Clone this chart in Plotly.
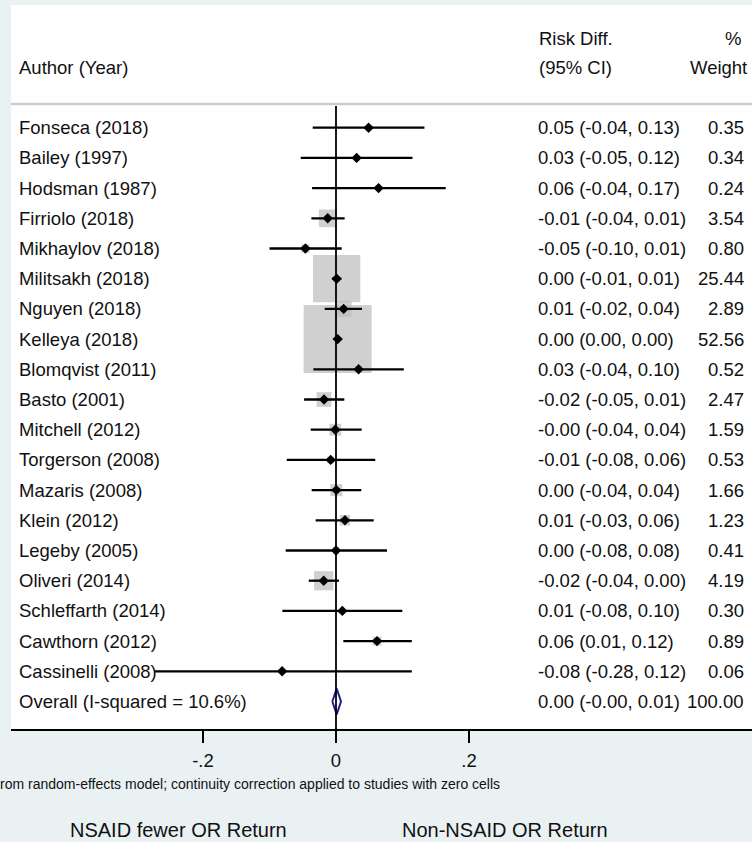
import math
import plotly.graph_objects as go

# ---------------- data ----------------
studies = ["Fonseca (2018)", "Bailey (1997)", "Hodsman (1987)", "Firriolo (2018)",
           "Mikhaylov (2018)", "Militsakh (2018)", "Nguyen (2018)", "Kelleya (2018)",
           "Blomqvist (2011)", "Basto (2001)", "Mitchell (2012)", "Torgerson (2008)",
           "Mazaris (2008)", "Klein (2012)", "Legeby (2005)", "Oliveri (2014)",
           "Schleffarth (2014)", "Cawthorn (2012)", "Cassinelli (2008)"]
est = [0.049, 0.031, 0.064, -0.0125, -0.046, 0.001, 0.0115, 0.0025, 0.034, -0.018,
       -0.001, -0.008, 0.0005, 0.0135, 0.0, -0.0185, 0.0095, 0.0617, -0.081]
lo = [-0.035, -0.053, -0.036, -0.037, -0.100, -0.006, -0.017, -0.001, -0.034, -0.048,
      -0.038, -0.074, -0.0366, -0.0306, -0.0757, -0.041, -0.0807, 0.011, -0.272]
hi = [0.133, 0.115, 0.165, 0.013, 0.0085, 0.008, 0.039, 0.004, 0.102, 0.0125,
      0.0386, 0.059, 0.038, 0.0567, 0.0767, 0.0045, 0.0997, 0.114, 0.114]
ci_text = ["0.05 (-0.04, 0.13)", "0.03 (-0.05, 0.12)", "0.06 (-0.04, 0.17)",
           "-0.01 (-0.04, 0.01)", "-0.05 (-0.10, 0.01)", "0.00 (-0.01, 0.01)",
           "0.01 (-0.02, 0.04)", "0.00 (0.00, 0.00)", "0.03 (-0.04, 0.10)",
           "-0.02 (-0.05, 0.01)", "-0.00 (-0.04, 0.04)", "-0.01 (-0.08, 0.06)",
           "0.00 (-0.04, 0.04)", "0.01 (-0.03, 0.06)", "0.00 (-0.08, 0.08)",
           "-0.02 (-0.04, 0.00)", "0.01 (-0.08, 0.10)", "0.06 (0.01, 0.12)",
           "-0.08 (-0.28, 0.12)"]
weights = [0.35, 0.34, 0.24, 3.54, 0.80, 25.44, 2.89, 52.56, 0.52, 2.47,
           1.59, 0.53, 1.66, 1.23, 0.41, 4.19, 0.30, 0.89, 0.06]

overall_label = "Overall (I-squared = 10.6%)"
overall_est = 0.001
overall_lo = -0.0055
overall_hi = 0.0075
overall_text = "0.00 (-0.00, 0.01)"
overall_weight = 100.00

tick_vals = [-0.2, 0, 0.2]
tick_text = ["-.2", "0", ".2"]

# ---------------- layout helpers ----------------
W, H = 752, 842
ROW0, STEP = 127.7, 30.2
AXIS_Y = 729
X0PX, UNIT = 336, 665
FONT = "Liberation Sans, Arial, Helvetica, sans-serif"
TXT = "#111111"
FS = 18.5


def py(px):
    return 1 - px / H


def row_of(px):
    return (px - ROW0) / STEP


rows = list(range(len(studies)))
ov_row = len(studies)

fig = go.Figure()

# weight boxes (area proportional to weight)
fig.add_trace(go.Scatter(
    x=est, y=rows, mode="markers",
    marker=dict(symbol="square", size=[9.38 * math.sqrt(w) for w in weights],
                color="#bcbcbc", line=dict(width=0)),
    hoverinfo="skip"))

# confidence intervals
cx, cy = [], []
for i in rows:
    cx += [lo[i], hi[i], None]
    cy += [i, i, None]
fig.add_trace(go.Scatter(x=cx, y=cy, mode="lines",
                         line=dict(color="black", width=2.3), hoverinfo="skip"))

# point estimates
fig.add_trace(go.Scatter(x=est, y=rows, mode="markers",
                         marker=dict(symbol="diamond", size=8, color="black"),
                         hoverinfo="skip"))

# overall diamond
dh = 0.43
fig.add_trace(go.Scatter(
    x=[overall_lo, overall_est, overall_hi, overall_est, overall_lo],
    y=[ov_row, ov_row - dh, ov_row, ov_row + dh, ov_row],
    mode="lines", fill="toself", fillcolor="white",
    line=dict(color="#1f1f8f", width=2), hoverinfo="skip"))

shapes = [
    # white panel
    dict(type="rect", xref="paper", yref="paper", x0=11 / W, x1=1,
         y0=py(AXIS_Y), y1=py(5), fillcolor="white", line=dict(width=0),
         layer="below"),
    # header separator
    dict(type="line", xref="paper", yref="paper", x0=11 / W, x1=1,
         y0=py(104), y1=py(104), line=dict(color="#cdcdcd", width=2.5)),
    # null line
    dict(type="line", xref="x", yref="paper", x0=0, x1=0,
         y0=py(AXIS_Y), y1=py(106), line=dict(color="black", width=1.8)),
]

ann = []


def add_text(text, x, y, xanchor="left", yref="paper", size=FS):
    ann.append(dict(text=text, x=x, y=y, xref="paper", yref=yref,
                    xanchor=xanchor, yanchor="middle", showarrow=False,
                    font=dict(family=FONT, size=size, color=TXT)))


# header
add_text("Author (Year)", 17 / W, py(67))
add_text("Risk Diff.", 537 / W, py(38))
add_text("(95% CI)", 537 / W, py(67))
add_text("%", 743 / W, py(38), xanchor="right")
add_text("Weight", 749 / W, py(67), xanchor="right")

for i in rows:
    add_text(studies[i], 17 / W, i, yref="y")
    add_text(ci_text[i], 536 / W, i, yref="y")
    add_text(f"{weights[i]:.2f}", 746 / W, i, xanchor="right", yref="y")
add_text(overall_label, 17 / W, ov_row, yref="y")
add_text(overall_text, 536 / W, ov_row, yref="y")
add_text(f"{overall_weight:.2f}", 746 / W, ov_row, xanchor="right", yref="y")

# footnote and direction labels
add_text("rom random-effects model; continuity correction applied to studies with zero cells",
         -2 / W, py(784), size=14)
add_text("NSAID fewer OR Return", 178 / W, py(830), xanchor="center", size=20)
add_text("Non-NSAID OR Return", 505 / W, py(830), xanchor="center", size=20)

fig.update_layout(
    width=W, height=H, margin=dict(l=0, r=0, t=0, b=0),
    paper_bgcolor="#e9f1f3", plot_bgcolor="rgba(0,0,0,0)",
    showlegend=False, shapes=shapes, annotations=ann,
    font=dict(family=FONT, color=TXT),
    xaxis=dict(domain=[11 / W, 1],
               range=[(11 - X0PX) / UNIT, (W - X0PX) / UNIT],
               showline=True, linecolor="black", linewidth=2.2,
               ticks="outside", ticklen=12, tickwidth=1.8, tickcolor="black",
               tickvals=tick_vals, ticktext=tick_text,
               tickfont=dict(family=FONT, size=FS, color=TXT),
               ticklabelstandoff=2,
               showgrid=False, zeroline=False, fixedrange=True),
    yaxis=dict(domain=[1 - AXIS_Y / H, 1],
               range=[row_of(AXIS_Y), row_of(0)],
               visible=False, showgrid=False, zeroline=False, fixedrange=True),
)

fig.write_html(
    "out.html",
    config={"displayModeBar": False},
    post_script="document.documentElement.style.margin='0';"
                "document.body.style.margin='0';"
                "document.body.style.overflow='hidden';"
                "document.body.style.background='#e9f1f3';",
)
